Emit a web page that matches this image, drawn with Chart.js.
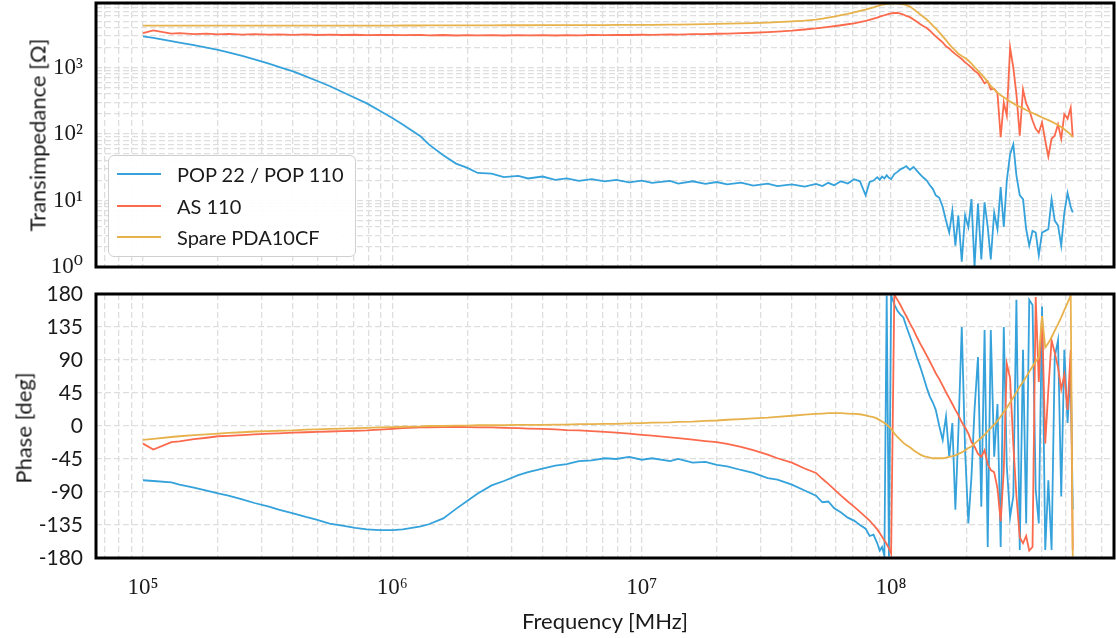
<!DOCTYPE html>
<html>
<head>
<meta charset="utf-8">
<script src="https://cdn.jsdelivr.net/npm/chart.js@4.4.1/dist/chart.umd.min.js"></script>
<style>
  body { margin: 0; background: #fff; }
  #wrap { position: relative; width: 1116px; height: 638px; overflow: hidden; font-family: Lato, 'Open Sans', sans-serif; color: #1a1a1a; }
  canvas { position: absolute; left: 0; top: 0; }
  .ytitle { position: absolute; transform: translate(-50%, -50%) rotate(-90deg); white-space: nowrap; font-size: 22px; }
  .xtitle { position: absolute; transform: translate(-50%, -50%); white-space: nowrap; font-size: 22px; }
  #legend { position: absolute; left: 108px; top: 155px; width: 248px; height: 102px; box-sizing: border-box;
            border: 1px solid #d0d0d0; border-radius: 6px; background: rgba(255,255,255,0.92); font-size: 20px; }
  #legend .item { position: absolute; left: 0; height: 24px; line-height: 24px; white-space: nowrap; }
  #legend .swatch { position: absolute; left: 8px; top: 11px; width: 44px; height: 2px; }
  #legend .label { position: absolute; left: 68px; top: 0; }
</style>
</head>
<body>
<div id="wrap">
  <canvas id="top" width="1116" height="638"></canvas>
  <canvas id="bot" width="1116" height="638"></canvas>
  <div class="ytitle" style="left:37px; top:135px;">Transimpedance [Ω]</div>
  <div class="ytitle" style="left:23px; top:428px;">Phase [deg]</div>
  <div class="xtitle" style="left:605px; top:620px;">Frequency [MHz]</div>
  <div id="legend"></div>
</div>
<script>
// frequency points (Hz), rows grouped the same way in every series below
const freqHz = [
  1.0e5, 1.1e5, 1.3e5, 1.4e5, 1.6e5, 1.8e5, 2.0e5, 2.2e5, 2.5e5, 2.8e5,
  3.2e5, 3.5e5, 4.0e5, 4.5e5, 5.0e5, 5.6e5, 6.3e5, 7.1e5, 7.9e5, 8.9e5,
  1.0e6, 1.1e6, 1.3e6, 1.4e6, 1.6e6, 1.8e6, 2.0e6, 2.2e6, 2.5e6, 2.8e6,
  3.2e6, 3.5e6, 4.0e6, 4.5e6, 5.0e6, 5.6e6, 6.3e6, 7.1e6, 7.9e6, 8.9e6,
  1.0e7, 1.1e7, 1.3e7, 1.4e7, 1.6e7, 1.8e7, 2.0e7, 2.2e7, 2.5e7, 2.8e7,
  3.2e7, 3.5e7, 4.0e7, 4.5e7,
  5.0e7, 5.3e7, 5.6e7, 5.9e7, 6.3e7, 6.7e7, 7.1e7, 7.5e7, 7.9e7, 8.2e7,
  8.5e7, 8.8e7, 9.0e7, 9.2e7, 9.4e7, 9.6e7, 9.8e7,
  1.00e8, 1.03e8, 1.06e8, 1.09e8, 1.12e8, 1.15e8, 1.19e8, 1.23e8, 1.27e8, 1.31e8,
  1.35e8, 1.39e8, 1.43e8, 1.47e8, 1.51e8, 1.56e8, 1.61e8, 1.66e8, 1.71e8, 1.76e8,
  1.81e8, 1.86e8, 1.92e8, 1.98e8, 2.04e8, 2.10e8, 2.16e8, 2.23e8, 2.30e8, 2.37e8,
  2.44e8, 2.51e8, 2.59e8, 2.67e8, 2.75e8, 2.83e8, 2.91e8, 3.00e8, 3.09e8, 3.18e8,
  3.28e8, 3.38e8, 3.48e8, 3.58e8, 3.69e8, 3.80e8, 3.91e8, 4.03e8, 4.15e8, 4.27e8,
  4.40e8, 4.53e8, 4.67e8, 4.81e8, 4.95e8, 5.10e8, 5.25e8, 5.35e8
];

// transimpedance magnitude (Ohm)
const popMag = [
  2950, 2800, 2500, 2380, 2180, 2000, 1850, 1700, 1500, 1330,
  1150, 1030, 880, 740, 630, 530, 430, 350, 290, 225,
  175, 140, 92, 70, 48, 36, 31, 26, 25.5, 22.5,
  23.5, 21.5, 23, 20.5, 21.5, 19.8, 21, 19.5, 20.5, 18.8,
  20, 18.5, 19.8, 18, 19.5, 17.8, 19, 17.5, 18.6, 16.8,
  18, 16.5, 17.5, 16.2,
  17.8, 16.5, 18.5, 17, 19.5, 18, 21, 19.5, 12, 19,
  20, 22.5, 20.5, 23, 21.5, 24, 22,
  21, 25, 27, 29.5, 31, 33, 29, 32, 28, 24.5,
  22, 20, 17, 15, 12, 11, 8, 5, 3.3, 7,
  2.1, 6, 1.2, 6, 4, 10.5, 1.0, 9, 1.3, 9.4,
  4.0, 1.3, 6.6, 3.7, 16, 4, 20, 50, 70, 24,
  12, 10.5, 3.7, 2.1, 3.5, 3.3, 1.5, 3.3, 3.5, 3.7,
  10.5, 5, 4.2, 2.1, 6.6, 13, 8, 6.6
];
const asMag = [
  3300, 3650, 3250, 3300, 3200, 3250, 3180, 3220, 3150, 3200,
  3150, 3180, 3120, 3160, 3100, 3140, 3100, 3130, 3080, 3120,
  3100, 3080, 3120, 3060, 3100, 3050, 3090, 3060, 3080, 3050,
  3090, 3060, 3080, 3050, 3090, 3070, 3100, 3080, 3110, 3100,
  3130, 3120, 3160, 3150, 3200, 3200, 3240, 3260, 3300, 3350,
  3420, 3480, 3600, 3750,
  3900, 4000, 4100, 4200, 4350, 4500, 4650, 4850, 5050, 5250,
  5450, 5650, 5850, 6000, 6150, 6300, 6450,
  6550, 6650, 6650, 6500, 6300, 6000, 5750, 5300, 4900, 4500,
  4200, 3950, 3600, 3250, 2950, 2650, 2400, 2100, 1950, 1750,
  1600, 1480, 1350, 1200, 1100, 1000, 900, 820, 700, 580,
  620, 470, 480, 410, 90, 300, 190, 2000, 1000, 400,
  95, 470, 290, 230, 160, 120, 105, 150, 80, 46,
  85, 95, 140, 85, 200, 170, 250, 90
];
const spareMag = [
  4300, 4300, 4300, 4300, 4300, 4300, 4300, 4300, 4300, 4300,
  4300, 4300, 4300, 4300, 4300, 4300, 4300, 4300, 4300, 4300,
  4300, 4310, 4310, 4320, 4320, 4330, 4330, 4340, 4340, 4350,
  4350, 4350, 4360, 4360, 4370, 4370, 4380, 4380, 4390, 4390,
  4400, 4410, 4440, 4450, 4490, 4520, 4550, 4590, 4640, 4690,
  4770, 4840, 4960, 5100,
  5300, 5450, 5650, 5850, 6150, 6450, 6800, 7150, 7500, 7800,
  8100, 8450, 8650, 8850, 9000, 9100, 9200,
  9250, 9300, 9300, 9200, 9000, 8700, 8300, 7600, 6900, 6300,
  5800, 5300, 4800, 4300, 3900, 3400, 2950, 2600, 2250, 2000,
  1800, 1620, 1500, 1400, 1280, 1150, 1020, 900, 790, 700,
  610, 530, 470, 420, 385, 360, 335, 310, 290, 272,
  258, 244, 230, 218, 208, 198, 188, 178, 170, 162,
  154, 146, 137, 128, 118, 108, 98, 90
];

// phase (deg)
const popPhase = [
  -74, -75, -77, -80, -84, -88, -92, -95, -100, -105,
  -110, -114, -119, -124, -128, -133, -136, -139, -141, -142,
  -142, -141, -137, -134, -126, -113, -102, -92, -81, -75,
  -67, -63, -58, -54, -52, -48, -47, -44, -45, -42,
  -46, -44, -48, -45, -50, -49, -53, -55, -60, -64,
  -71, -73, -80, -88,
  -95, -104, -103, -112, -118, -125, -129, -135, -140, -150,
  -148, -160, -170, -165, -177, 178, -178,
  178, 166, 157, 152, 148, 136, 122, 108, 93, 80,
  66, 52, 40, 32, 22, 0, -19, 13, -42, 4,
  -114, -10, 135, -33, -133, -69, 22, 94, -110, 131,
  -165, 131, -42, 30, -165, 135, -55, -124, -96, 172,
  -169, 104, -133, 172, 165, -87, -133, 163, -169, -74,
  -169, 94, 117, -96, 104, 4, 81, -114
];
const asPhase = [
  -24, -32, -22, -21, -18, -16, -14, -13.5, -12.5, -11.5,
  -10.5, -10, -9, -8.5, -8, -7.5, -7, -6.5, -6, -5,
  -4, -3, -2, -2, -1.5, -1, -1.5, -2, -2, -2.5,
  -3, -3.5, -4, -4.5, -5.5, -6, -7, -8, -9, -10.5,
  -12, -13, -15.5, -16.5, -18.5, -20.5, -22, -24.5, -28.5, -33,
  -39, -44, -50, -58,
  -64, -72, -79, -86, -95, -103, -110, -117, -124, -129,
  -135, -141, -146, -151, -156, -161, -167,
  -174, 179, 172, 165, 157, 150, 140, 131, 121, 112,
  104, 96, 88, 80, 72, 64, 55, 46, 38, 30,
  22, 15, 5, -2, -10, -22, -28, -38, -42, -33,
  -52, -60, -63, -85, -130, -60, 85, 65, -25, -95,
  -152, -160, -150, -170, -165, 176, 60, 150, -24, 49,
  117, 100, 80, 50, 70, 22, 104, -169
];
const sparePhase = [
  -19, -17.5, -15, -14, -12.5, -11.5, -10.5, -9.5, -8.5, -7.5,
  -7, -6.5, -6, -5, -4.5, -4, -3.5, -3, -2.5, -2,
  -1.5, -1, -0.5, 0, 0, 0.5, 0.5, 1, 1, 1,
  1.5, 1.5, 1.5, 2, 2, 2.5, 2.5, 3, 3, 3.5,
  4, 4.5, 5, 5.5, 6, 7, 7.5, 8.5, 9.5, 10.5,
  11.5, 12.5, 14, 15.5,
  16.5, 17, 17.5, 17.5, 17.5, 17, 16.5, 16, 14.5, 13,
  12, 10, 8, 6, 4, 2, -1,
  -4, -10, -15, -19, -23, -26, -29, -33, -36, -39,
  -41, -42, -43, -44, -44, -44, -44, -43, -42, -41,
  -40, -38, -36, -33, -30, -28, -24, -20, -16, -12,
  -7, -3, 2, 7, 13, 19, 25, 32, 39, 46,
  54, 60, 67, 74, 81, 88, 94, 150, 107, 113,
  121, 130, 139, 148, 158, 168, 178, -178
];

const seriesNames = ['POP 22 / POP 110', 'AS 110', 'Spare PDA10CF'];
const seriesColors = ['#35a2db', '#fb6a4d', '#e7b24b'];

const xMin = 6.48e4, xMax = 7.83e8;
const xMajor = [1e5, 1e6, 1e7, 1e8];
const xMajorLabels = ['10\u2075', '10\u2076', '10\u2077', '10\u2078'];
const magMin = 1, magMax = 9400;
const magMajor = [1, 10, 100, 1000];
const magLabels = ['10\u2070', '10\u00b9', '10\u00b2', '10\u00b3'];
const phaseTicks = [-180, -135, -90, -45, 0, 45, 90, 135, 180];

const serifFont = "'Liberation Serif', 'DejaVu Serif', serif";
const sansFont = "Lato, 'Open Sans', sans-serif";

// grid lines at 1..9 x 10^n
function logGrid(lo, hi) {
  const out = [];
  for (let d = Math.floor(Math.log10(lo)); d <= Math.ceil(Math.log10(hi)); d++) {
    for (let m = 1; m <= 9; m++) {
      const v = m * Math.pow(10, d);
      if (v >= lo * 0.999 && v <= hi) out.push({ value: v });
    }
  }
  return out;
}

function majorLabel(majors, labels) {
  return (v) => {
    const i = majors.findIndex(m => Math.abs(v / m - 1) < 1e-6);
    return i >= 0 ? labels[i] : '';
  };
}

const gridOpts = { color: '#dedede', lineWidth: 1.3, drawTicks: false };
const borderOpts = { display: false, dash: [6, 3] };

const framePlugin = {
  id: 'frame',
  afterDraw(chart) {
    const a = chart.chartArea, ctx = chart.ctx;
    ctx.save();
    ctx.strokeStyle = '#000';
    ctx.lineWidth = 3;
    ctx.strokeRect(a.left, a.top, a.right - a.left, a.bottom - a.top);
    ctx.restore();
  }
};

function makeDatasets(arrays) {
  return arrays.map((arr, k) => ({
    label: seriesNames[k],
    data: freqHz.map((f, i) => ({ x: f, y: arr[i] })),
    borderColor: seriesColors[k],
    borderWidth: 1.8,
    pointRadius: 0,
    tension: 0,
    order: 2 - k
  }));
}

// both canvases cover the whole page; the axis sizes pin each plot area
function xScale(showLabels, height) {
  return {
    type: 'logarithmic',
    min: xMin,
    max: xMax,
    grid: gridOpts,
    border: borderOpts,
    afterBuildTicks: (s) => { s.ticks = logGrid(xMin, xMax); },
    afterFit: (s) => { s.height = height; s.paddingLeft = 0; s.paddingRight = 0; },
    ticks: {
      display: showLabels,
      autoSkip: false,
      maxRotation: 0,
      padding: 16,
      color: '#1a1a1a',
      font: { family: serifFont, size: 23 },
      callback: majorLabel(xMajor, xMajorLabels)
    }
  };
}

function yFit(s) {
  s.width = 96;
  s.paddingTop = 0;
  s.paddingBottom = 0;
}

Chart.defaults.animation = false;

new Chart(document.getElementById('top'), {
  type: 'line',
  data: { datasets: makeDatasets([popMag, asMag, spareMag]) },
  options: {
    responsive: false,
    layout: { padding: { left: 0, right: 2, top: 3, bottom: 0 } },
    plugins: { legend: { display: false }, tooltip: { enabled: false } },
    scales: {
      x: xScale(false, 638 - 267),
      y: {
        type: 'logarithmic',
        min: magMin,
        max: magMax,
        grid: gridOpts,
        border: borderOpts,
        afterBuildTicks: (s) => { s.ticks = logGrid(magMin, magMax); },
        afterFit: yFit,
        ticks: {
          autoSkip: false,
          padding: 13,
          color: '#1a1a1a',
          font: { family: serifFont, size: 23 },
          callback: majorLabel(magMajor, magLabels)
        }
      }
    }
  },
  plugins: [framePlugin]
});

new Chart(document.getElementById('bot'), {
  type: 'line',
  data: { datasets: makeDatasets([popPhase, asPhase, sparePhase]) },
  options: {
    responsive: false,
    layout: { padding: { left: 0, right: 2, top: 294, bottom: 0 } },
    plugins: { legend: { display: false }, tooltip: { enabled: false } },
    scales: {
      x: xScale(true, 638 - 558),
      y: {
        type: 'linear',
        min: -180,
        max: 180,
        grid: gridOpts,
        border: borderOpts,
        afterBuildTicks: (s) => { s.ticks = phaseTicks.map(v => ({ value: v })); },
        afterFit: yFit,
        ticks: {
          autoSkip: false,
          padding: 13,
          color: '#1a1a1a',
          font: { family: sansFont, size: 21 },
          callback: (v) => String(v)
        }
      }
    }
  },
  plugins: [framePlugin]
});

// legend inside the top panel
const legend = document.getElementById('legend');
const rowTops = [6, 38, 69];
seriesNames.forEach((name, k) => {
  const item = document.createElement('div');
  item.className = 'item';
  item.style.top = rowTops[k] + 'px';
  item.innerHTML = '<span class="swatch" style="background:' + seriesColors[k] + '"></span>' +
                   '<span class="label">' + name + '</span>';
  legend.appendChild(item);
});
</script>
</body>
</html>
